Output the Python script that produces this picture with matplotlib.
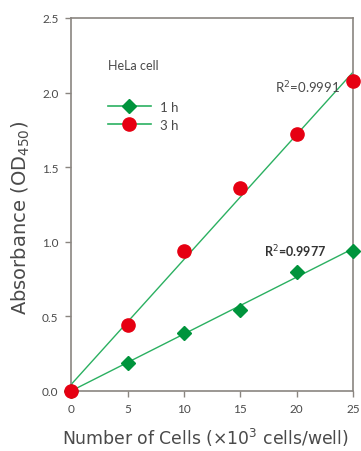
import numpy as np
import matplotlib
matplotlib.use('Agg')
import matplotlib.pyplot as plt

# Values
cells = [0, 5, 10, 15, 20, 25]
od_1h = [0.0, 0.19, 0.39, 0.54, 0.80, 0.94]
od_3h = [0.0, 0.44, 0.94, 1.36, 1.72, 2.08]
r2_1h = '0.9977'
r2_3h = '0.9991'

plt.rcParams['font.family'] = ['DejaVu Sans']

spine_col = '#8a8580'
text_col = '#4a4a4a'
line_col = '#2bb061'
green = '#00943c'
red = '#e60012'

fig = plt.figure(figsize=(3.61, 4.52), dpi=100)
ax = fig.add_axes([0.197, 0.133, 0.781, 0.825])

# linear fits drawn from the data
xx = np.array([0, 25])
for y in (od_1h, od_3h):
    k, b = np.polyfit(cells, y, 1)
    ax.plot(xx, k * xx + b, color=line_col, lw=1, zorder=2)

ax.plot(cells, od_1h, 'D', color=green, ms=7, mec=green, zorder=3, clip_on=False)
ax.plot(cells, od_3h, 'o', color=red, ms=9.5, mec=red, zorder=4, clip_on=False)

# legend handles
ax.plot([], [], '-D', color=line_col, mfc=green, mec=green, ms=7, lw=1.2, label='1 h')
ax.plot([], [], '-o', color=line_col, mfc=red, mec=red, ms=9.5, lw=1.2, label='3 h')
ax.legend(loc='upper left', bbox_to_anchor=(0.09, 0.81), frameon=False,
          handlelength=3.2, labelspacing=0.45, handletextpad=0.7,
          labelcolor=text_col, prop={'family': 'Lato', 'size': 9.5})

ax.text(0.13, 0.875, 'HeLa cell', transform=ax.transAxes, fontsize=9, color=text_col,
        va='center', family='Lato')
ax.text(21.0, 2.04, 'R$^2$=' + r2_3h, fontsize=9.5, color=text_col, ha='center', va='center',
        family='Lato')
ax.text(19.9, 0.94, 'R$^2$=' + r2_1h, fontsize=9, color='#333333', ha='center', va='center',
        family='Lato', fontweight='bold')

ax.set_xlim(0, 25)
ax.set_ylim(0, 2.5)
ax.set_xticks(cells)
ax.set_yticks(np.arange(0, 2.51, 0.5))
ax.set_yticklabels(['%.1f' % v for v in np.arange(0, 2.51, 0.5)])
ax.tick_params(direction='out', length=4, width=1, color=spine_col, labelsize=8.5,
               labelcolor=text_col, pad=5)
for lab in ax.get_xticklabels() + ax.get_yticklabels():
    lab.set_family('Lato')
for s in ax.spines.values():
    s.set_color(spine_col)
    s.set_linewidth(1.2)

ax.set_xlabel('Number of Cells (×10$^3$ cells/well)', fontsize=12.4, color=text_col, labelpad=8)
ax.set_ylabel('Absorbance (OD$_{450}$)', fontsize=14, color=text_col, labelpad=7)
ax.xaxis.label.set_x(0.475)
ax.yaxis.label.set_y(0.466)

fig.savefig('out.png', dpi=100)
